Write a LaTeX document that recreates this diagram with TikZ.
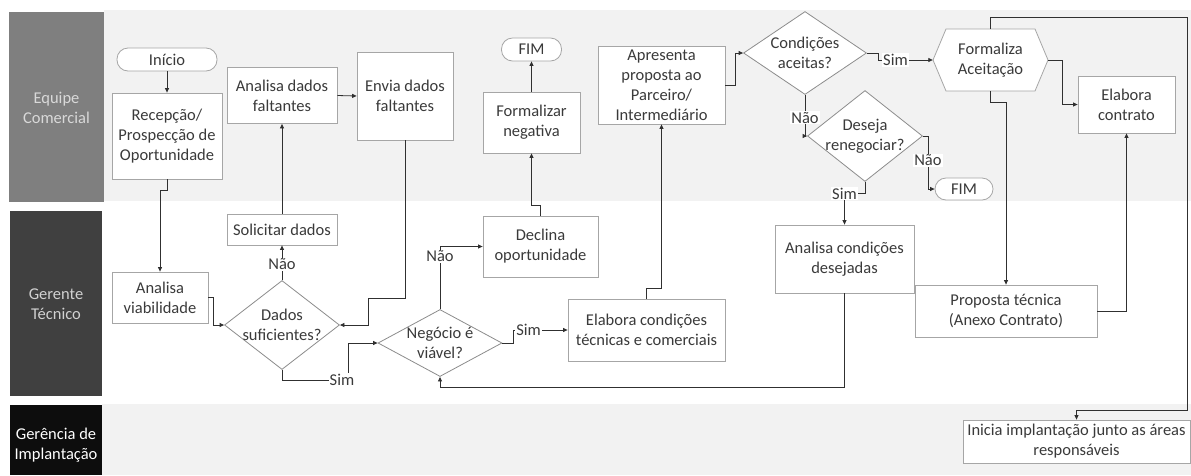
\documentclass[tikz,border=0pt]{standalone}
\usepackage{fontspec}
\setmainfont{Carlito}
\usetikzlibrary{arrows.meta,shapes.geometric,calc}
\definecolor{txt}{HTML}{3A3A3A}
\definecolor{boxc}{HTML}{A6A6A6}
\definecolor{diac}{HTML}{8C8C8C}
\definecolor{linec}{HTML}{303030}
\definecolor{lanebg}{HTML}{F2F2F2}
\definecolor{laneA}{HTML}{7F7F7F}
\definecolor{laneB}{HTML}{404040}
\definecolor{laneC}{HTML}{0D0D0D}
\begin{document}
\begin{tikzpicture}[x=1pt,y=-1pt,
  every node/.style={font=\fontsize{16.5}{20}\selectfont, text=txt},
  box/.style={draw=boxc, line width=0.8pt, fill=white, align=center, inner sep=1pt},
  sz/.style 2 args={minimum width=#1pt, minimum height=#2pt},
  term/.style={box, rounded corners=11pt},
  dia/.style={diamond, draw=diac, line width=0.8pt, fill=white, inner sep=0pt},
  arr/.style={draw=linec, line width=0.8pt, -{Triangle[length=4.5pt,width=4pt]}},
  lbl/.style={fill=white, inner sep=1pt},
  lanetxt/.style={align=center}
]
\useasboundingbox (0,0) rectangle (1191,475);
\fill[white] (0,0) rectangle (1191,475);
% lanes
\fill[lanebg] (104,10) rectangle (1191,201);
\fill[lanebg] (102,404) rectangle (1191,475);
\fill[laneA] (9,12) rectangle (104,202);
\fill[laneB] (10,211) rectangle (102,396);
\fill[laneC] (10,405) rectangle (102,475);
\node[lanetxt, text=white!85!black] (lA) at (56.5,108) {Equipe\\Comercial};
\node[lanetxt, text=white!82!black] (lB) at (56,304) {Gerente\\Técnico};
\node[lanetxt, text=white] (lC) at (56,445) {Gerência de\\Implantação};

% nodes
\node[term, sz={100}{23}] (ini) at (167,59.5) {Início};
\node[box, sz={110}{86}] (recep) at (167,136) {Recepção/\\Prospecção de\\Oportunidade};
\node[box, sz={110}{56}] (adf) at (282,95.5) {Analisa dados\\faltantes};
\node[box, sz={96}{88}] (edf) at (405,96) {Envia dados\\faltantes};
\node[term, sz={60}{23}] (fim1) at (531.5,49.5) {FIM};
\node[box, sz={97}{61}] (fneg) at (531.5,122.5) {Formalizar\\negativa};
\node[box, sz={127}{78}] (apr) at (661.5,85) {Apresenta\\proposta ao\\Parceiro/\\Intermediário};
\node[dia, sz={123}{83}, label={[lanetxt]center:{Condições\\aceitas?}}] (cond) at (805,53) {};
\filldraw[draw=boxc, fill=white, line width=0.8pt] (933,60) -- (946,29) -- (1035,29) -- (1048,60) -- (1035,91) -- (946,91) -- cycle;
\node[sz={115}{62}, align=center, inner sep=0pt] (form) at (990.5,60) {Formaliza\\Aceitação};
\node[box, sz={97}{57}] (ec) at (1126.5,104.5) {Elabora\\contrato};
\node[dia, sz={115}{91}, label={[lanetxt]center:{Deseja\\renegociar?}}] (des) at (865,136) {};
\node[term, sz={58}{22}] (fim2) at (964,189) {FIM};
\node[box, sz={139}{68}] (acd) at (844.5,259) {Analisa condições\\desejadas};
\node[box, sz={182}{52}] (pt) at (1006,311) {Proposta técnica\\(Anexo Contrato)};
\node[box, sz={227}{43}] (ini2) at (1076.5,441.5) {Inicia implantação junto as áreas\\responsáveis};
\node[box, sz={110}{31}] (sol) at (282,229.5) {Solicitar dados};
\node[box, sz={96}{51}] (av) at (160,297.5) {Analisa\\viabilidade};
\node[dia, sz={115}{89}, label={[lanetxt]center:{Dados\\suficientes?}}] (dad) at (282,325) {};
\node[dia, sz={124}{67}, label={[lanetxt]center:{Negócio é\\viável?}}] (neg) at (440,343) {};
\node[box, sz={115}{61}] (dec) at (540.5,246.5) {Declina\\oportunidade};
\node[box, sz={157}{62}] (ect) at (646.5,330) {Elabora condições\\técnicas e comerciais};

% connectors
\draw[arr] (ini) -- (recep);
\draw[arr] (recep.south) -- ++(0,11) -| (av.north);
\draw[arr] (av.east) -- ++(5,0) |- (dad.west);
\draw[arr] (dad.north) -- node[lbl, pos=0.45]{Não} (sol.south);
\draw[arr] (sol) -- (adf);
\draw[arr] (adf.east) -- (edf.west);
\draw[arr] (edf.south) |- (368,298) |- (dad.east);
\draw[arr] (dad.south) |- (348,380) |- (neg.west);
\node[lbl] (simA) at (342,380) {Sim};
\draw[arr] (neg.north) |- node[lbl, pos=0.42]{Não} (dec.west);
\draw[arr] (dec.north) -- ++(0,-10) -| (fneg.south);
\draw[arr] (fneg) -- (fim1);
\draw[arr] (neg.east) -- ++(11,0) |- node[lbl, pos=0.64]{Sim} (ect.west);
\draw[arr] (ect.north) -- ++(0,-10) -| (apr.south);
\draw[arr] (apr.east) -- ++(10,0) |- (cond.west);
\draw[arr] (cond.east) -- ++(11,0) |- node[lbl, pos=0.66]{Sim} (form.west);
\draw[arr] (cond.south) |- node[lbl, pos=0.28]{Não} (des.west);
\draw[arr] (des.east) -- ++(5,0) |- node[lbl, pos=0.23]{Não} (fim2.west);
\draw[arr] (des.south) -- ++(0,11.5) -| node[lbl, pos=0.5]{Sim} (acd.north);
\draw[arr] (acd.south) -- ++(0,94) -| (neg.south);
\draw[arr] (form.east) -- ++(14,0) |- (ec.west);
\draw[arr] (form.south) -- ++(0,11) -| (pt.north);
\draw[arr] (form.north) -- ++(0,-11) -| (1187,410) -| (ini2.north);
\draw[arr] (pt.east) -| (ec.south);
\end{tikzpicture}
\end{document}
